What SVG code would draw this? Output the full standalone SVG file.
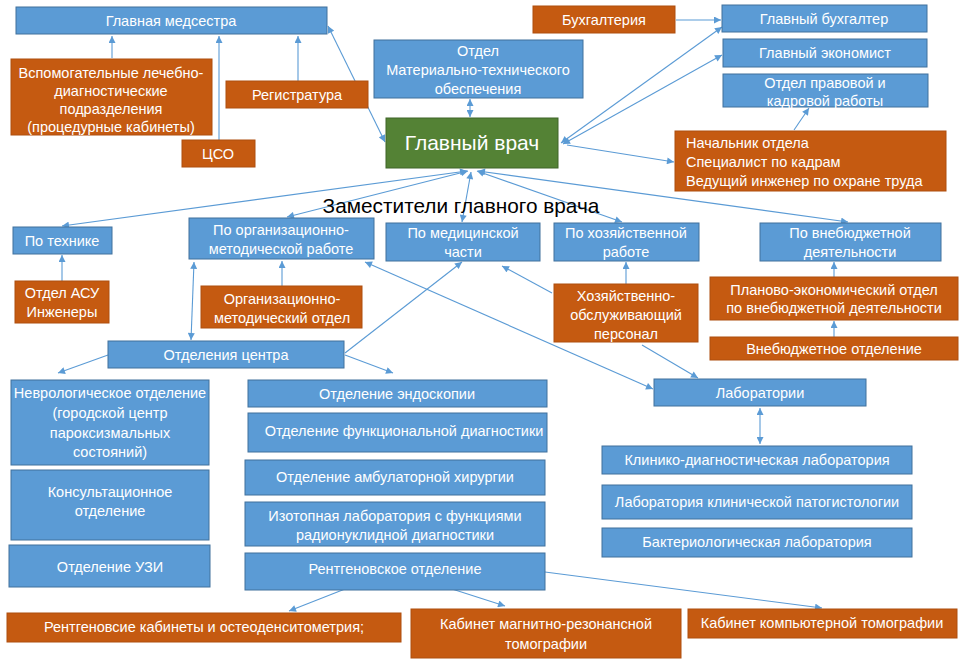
<svg xmlns="http://www.w3.org/2000/svg" width="965" height="663" viewBox="0 0 965 663">
<defs>
<style>
.b rect{fill:#5b9bd5;stroke:#41719c;stroke-width:1}
.o rect{fill:#c55a11;stroke:#ae4e0f;stroke-width:1}
.g rect{fill:#548235;stroke:#3f6428;stroke-width:1}
text{font-family:"Liberation Sans",Arial,sans-serif;font-size:14.5px;fill:#fff;text-anchor:middle}
.l text{text-anchor:start}
#conn path{fill:none;stroke:#5b9bd5;stroke-width:1.1}
.e{marker-end:url(#ah)}
.d{marker-start:url(#ah);marker-end:url(#ah)}
</style>
<marker id="ah" viewBox="0 0 10 10" refX="10" refY="5" markerWidth="8" markerHeight="7" markerUnits="userSpaceOnUse" orient="auto-start-reverse"><path d="M0,0 L10,5 L0,10 z" fill="#5b9bd5"/></marker>
</defs>
<rect width="965" height="663" fill="#fff"/>
<g id="conn">
<path class="e" d="M112,58 L112,36"/>
<path class="e" d="M219,140 L219,36"/>
<path class="e" d="M298,81 L298,36"/>
<path class="d" d="M328,26 L385,142"/>
<path class="d" d="M470,99 L470,117"/>
<path class="e" d="M676,20 L721,20"/>
<path class="d" d="M561,143 L722,27"/>
<path class="d" d="M563,144 L722,55"/>
<path class="e" d="M567,145 L674,162"/>
<path class="e" d="M794,130 L809,108"/>
<path class="d" d="M467,171 L62,226"/>
<path class="d" d="M468,171 L287,217"/>
<path class="d" d="M471,172 L462,222"/>
<path class="d" d="M477,171 L622,222"/>
<path class="d" d="M478,171 L848,222"/>
<path class="e" d="M62,281 L62,255"/>
<path class="e" d="M282,286 L282,261"/>
<path class="d" d="M191,340 L194,262"/>
<path class="e" d="M345,353 L462,262"/>
<path class="d" d="M365,262 L653,389"/>
<path class="e" d="M552,293 L502,266"/>
<path class="e" d="M626,284 L626,262"/>
<path class="e" d="M642,345 L698,378"/>
<path class="e" d="M834,277 L834,262"/>
<path class="e" d="M834,337 L834,321"/>
<path class="e" d="M108,355 L58,373"/>
<path class="e" d="M345,355 L393,373"/>
<path class="d" d="M760,408 L760,444"/>
<path class="e" d="M345,589 L289,611"/>
<path class="e" d="M452,589 L505,606"/>
<path class="e" d="M545,572 L822,608"/>
</g>
<g id="n_medsestra" class="b"><rect x="16" y="7" width="311" height="27"/><text x="171" y="26">Главная медсестра</text></g>
<g id="n_vspom" class="o"><rect x="11" y="59" width="201" height="76"/><text x="111" y="78">Вспомогательные лечебно-</text><text x="111" y="96">диагностические</text><text x="111" y="114">подразделения</text><text x="111" y="132">(процедурные кабинеты)</text></g>
<g id="n_reg" class="o"><rect x="226" y="81" width="142" height="27"/><text x="297" y="100">Регистратура</text></g>
<g id="n_cso" class="o"><rect x="182" y="140" width="73" height="27"/><text x="218" y="159">ЦСО</text></g>
<g id="n_mto" class="b"><rect x="374" y="40" width="209" height="58"/><text x="478" y="56">Отдел</text><text x="478" y="75">Материально-технического</text><text x="478" y="94">обеспечения</text></g>
<g id="n_glvrach" class="g"><rect x="386" y="118" width="172" height="50"/><text x="472" y="150" style="font-size:21px">Главный врач</text></g>
<g id="n_buh" class="o"><rect x="533" y="6" width="142" height="27"/><text x="604" y="25">Бухгалтерия</text></g>
<g id="n_glbuh" class="b"><rect x="722" y="5" width="205" height="27"/><text x="824" y="24">Главный бухгалтер</text></g>
<g id="n_glekon" class="b"><rect x="723" y="39" width="204" height="28"/><text x="825" y="58">Главный экономист</text></g>
<g id="n_pravo" class="b"><rect x="723" y="74" width="205" height="33"/><text x="825" y="88">Отдел правовой и</text><text x="825" y="106">кадровой работы</text></g>
<g id="n_nach" class="o l"><rect x="675" y="131" width="271" height="60"/><text x="686" y="148">Начальник отдела</text><text x="686" y="167">Специалист по кадрам</text><text x="686" y="186">Ведущий инженер по охране труда</text></g>
<g id="title"><text x="461" y="213" style="font-size:20.8px;fill:#000">Заместители главного врача</text></g>
<g id="n_teh" class="b"><rect x="13" y="227" width="99" height="27"/><text x="62" y="246">По технике</text></g>
<g id="n_orgm" class="b"><rect x="189" y="218" width="185" height="41"/><text x="281" y="235">По организационно-</text><text x="281" y="254">методической работе</text></g>
<g id="n_med" class="b"><rect x="386" y="223" width="154" height="38"/><text x="463" y="238">По медицинской</text><text x="463" y="257">части</text></g>
<g id="n_hoz" class="b"><rect x="554" y="223" width="145" height="38"/><text x="626" y="238">По хозяйственной</text><text x="626" y="257">работе</text></g>
<g id="n_vneb" class="b"><rect x="760" y="223" width="181" height="38"/><text x="850" y="238">По внебюджетной</text><text x="850" y="257">деятельности</text></g>
<g id="n_asu" class="o"><rect x="15" y="281" width="94" height="42"/><text x="62" y="298">Отдел АСУ</text><text x="62" y="317">Инженеры</text></g>
<g id="n_omo" class="o"><rect x="201" y="286" width="161" height="42"/><text x="282" y="304">Организационно-</text><text x="282" y="323">методический отдел</text></g>
<g id="n_hop" class="o"><rect x="554" y="284" width="144" height="58"/><text x="626" y="301">Хозяйственно-</text><text x="626" y="320">обслуживающий</text><text x="626" y="339">персонал</text></g>
<g id="n_peo" class="o"><rect x="710" y="277" width="248" height="43"/><text x="834" y="295">Планово-экономический отдел</text><text x="834" y="313">по внебюджетной деятельности</text></g>
<g id="n_vnebotd" class="o"><rect x="710" y="337" width="248" height="23"/><text x="834" y="354">Внебюджетное отделение</text></g>
<g id="n_otdc" class="b"><rect x="108" y="341" width="236" height="27"/><text x="226" y="360">Отделения центра</text></g>
<g id="n_nevr" class="b"><rect x="11" y="380" width="198" height="85"/><text x="110" y="398">Неврологическое отделение</text><text x="110" y="418">(городской центр</text><text x="110" y="438">пароксизмальных</text><text x="110" y="457">состояний)</text></g>
<g id="n_kons" class="b"><rect x="11" y="470" width="198" height="70"/><text x="110" y="497">Консультационное</text><text x="110" y="516">отделение</text></g>
<g id="n_uzi" class="b"><rect x="9" y="545" width="201" height="42"/><text x="110" y="572">Отделение УЗИ</text></g>
<g id="n_endo" class="b"><rect x="248" y="380" width="299" height="27"/><text x="397" y="399">Отделение эндоскопии</text></g>
<g id="n_func" class="b"><rect x="248" y="413" width="299" height="39"/><text x="404" y="436">Отделение функциональной диагностики</text></g>
<g id="n_amb" class="b"><rect x="245" y="460" width="300" height="35"/><text x="395" y="482">Отделение амбулаторной хирургии</text></g>
<g id="n_izot" class="b"><rect x="245" y="502" width="300" height="44"/><text x="395" y="521">Изотопная лаборатория с функциями</text><text x="395" y="540">радионуклидной диагностики</text></g>
<g id="n_rentg" class="b"><rect x="245" y="553" width="300" height="37"/><text x="395" y="574">Рентгеновское отделение</text></g>
<g id="n_lab" class="b"><rect x="654" y="379" width="212" height="27"/><text x="760" y="398">Лаборатории</text></g>
<g id="n_kdl" class="b"><rect x="602" y="446" width="310" height="28"/><text x="757" y="465">Клинико-диагностическая лаборатория</text></g>
<g id="n_pat" class="b"><rect x="602" y="485" width="310" height="34"/><text x="757" y="507">Лаборатория клинической патогистологии</text></g>
<g id="n_bakt" class="b"><rect x="602" y="528" width="310" height="29"/><text x="757" y="547">Бактериологическая лаборатория</text></g>
<g id="n_rkab" class="o"><rect x="7" y="613" width="394" height="29"/><text x="204" y="632">Рентгеновсие кабинеты и остеоденситометрия;</text></g>
<g id="n_mrt" class="o"><rect x="411" y="609" width="270" height="49"/><text x="546" y="629">Кабинет магнитно-резонансной</text><text x="546" y="649">томографии</text></g>
<g id="n_kt" class="o"><rect x="688" y="609" width="269" height="29"/><text x="822" y="628">Кабинет компьютерной томографии</text></g>
</svg>
